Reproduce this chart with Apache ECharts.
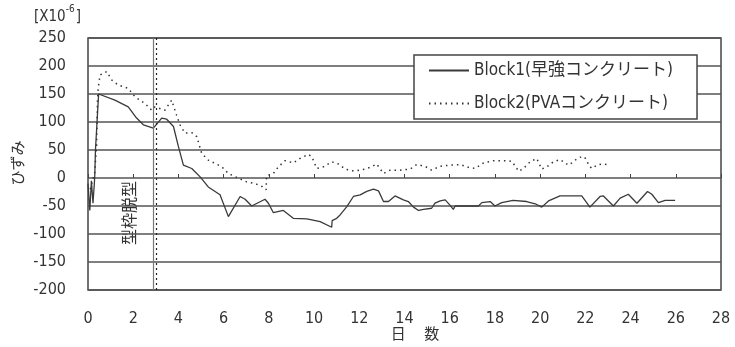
<!DOCTYPE html>
<html>
<head>
<meta charset="utf-8">
<script src="https://cdn.jsdelivr.net/npm/echarts@6/dist/echarts.min.js"></script>
<style>
  html, body { margin: 0; padding: 0; background: #fff; }
  #chart { width: 735px; height: 347px; }
</style>
</head>
<body>
<div id="chart"></div>
<script>
// Strain history of two concrete blocks (x10^-6) against elapsed days
const seriesNames = ['Block1(早強コンクリート)', 'Block2(PVAコンクリート)'];

const block1Days = [0, 0.08, 0.15, 0.22, 0.28, 0.3, 0.33, 0.4, 0.47, 0.55, 1.19, 1.78, 2.15, 2.45, 2.89, 3.26, 3.48, 3.78, 4.0, 4.22,
  4.59, 4.96, 5.32, 5.84, 6.21, 6.73, 6.95, 7.24, 7.83, 7.98, 8.2, 8.64, 9.08, 9.68, 10.27, 10.78, 10.8, 11.0, 11.15, 11.45,
  11.74, 12.04, 12.33, 12.63, 12.85, 13.07, 13.29, 13.58, 13.95, 14.17, 14.4, 14.62, 14.84, 15.2, 15.35, 15.58, 15.8, 16.0, 16.16, 16.24,
  17.27, 17.42, 17.79, 18.0, 18.3, 18.8, 19.4, 19.78, 20.07, 20.37, 20.88, 21.84, 22.2, 22.65, 22.8, 23.24, 23.54, 23.9, 24.28, 24.75,
  24.94, 25.23, 25.53, 25.97];
const block1Strain = [-10, -58, -5, -45, -10, 5, 50, 100, 150, 151, 139, 127, 107, 95, 89, 107, 105, 92, 56, 23,
  17, 2, -16, -30, -69, -33, -38, -50, -38, -45, -62, -58, -72, -73, -78, -88, -76, -72, -66, -51,
  -33, -30, -24, -20, -23, -42, -42, -32, -39, -42, -52, -58, -56, -54, -45, -41, -39, -48, -56, -50,
  -50, -44, -42, -50, -44, -40, -42, -46, -52, -41, -32, -32, -52, -33, -32, -50, -36, -29, -45, -24,
  -29, -44, -40, -40];

const block2Days = [0.1, 0.2, 0.3, 0.38, 0.42, 0.45, 0.53, 0.83, 1.05, 1.34, 1.78, 2.08, 2.52, 2.82, 2.96, 3.4, 3.7, 3.92, 4.07, 4.29, 4.59,
  4.81, 5.03, 5.32, 5.62, 5.92, 6.21, 7.02, 7.39, 7.69, 7.88, 7.9, 8.2, 8.42, 8.72, 9.08, 9.38, 9.75, 9.9, 10.12, 10.41,
  10.78, 11.08, 11.37, 11.67, 11.89, 12.26, 12.55, 12.77, 13.07, 13.36, 13.8, 14.25, 14.54, 14.9, 15.2, 15.58, 16.0, 16.46, 16.83, 17.12,
  17.5, 17.94, 18.4, 18.75, 19.05, 19.26, 19.56, 19.85, 20.07, 20.3, 20.59, 20.88, 21.1, 21.25, 21.4, 21.55, 21.77, 21.95, 22.07, 22.14,
  22.29, 22.51, 22.73, 22.95];
const block2Strain = [-20, -5, 10, 60, 140, 160, 184, 190, 175, 166, 160, 145, 133, 121, 127, 121, 139, 112, 95, 80, 81,
  74, 44, 32, 26, 20, 8, -7, -10, -15, -21, 4, 8, 20, 31, 27, 35, 42, 38, 17, 20,
  29, 25, 16, 13, 13, 16, 20, 25, 8, 14, 14, 16, 24, 21, 14, 21, 23, 24, 19, 17,
  27, 31, 31, 30, 12, 17, 29, 35, 16, 20, 29, 33, 27, 23, 27, 32, 37, 38, 31, 23,
  17, 23, 25, 24];

// x-axis and y-axis tick labels
const dayTicks = [0, 2, 4, 6, 8, 10, 12, 14, 16, 18, 20, 22, 24, 26, 28];
const strainTicks = [-200, -150, -100, -50, 0, 50, 100, 150, 200, 250];

// form removal day markers
const formRemovalDays = [2.88, 3.0];

const pair = (xs, ys) => xs.map((x, i) => [x, ys[i]]);

const numFont = '"Liberation Sans Narrow", "DejaVu Sans Condensed", "Noto Sans CJK JP", sans-serif';
const jpFont = '"Noto Sans CJK JP", sans-serif';
const ink = '#333';

const chart = echarts.init(document.getElementById('chart'), null, { renderer: 'canvas' });

chart.setOption({
  animation: false,
  backgroundColor: '#fff',
  grid: { left: 88, right: 14, top: 38, bottom: 57, show: true, borderColor: '#444', borderWidth: 1.5, backgroundColor: 'transparent' },
  xAxis: {
    type: 'value',
    min: dayTicks[0],
    max: dayTicks[dayTicks.length - 1],
    interval: 2,
    axisLine: { show: false },
    axisTick: { show: true, inside: true, length: 4, lineStyle: { color: '#444', width: 1 } },
    splitLine: { show: false },
    axisLabel: { color: ink, fontFamily: numFont, fontSize: 16, margin: 21 }
  },
  yAxis: {
    type: 'value',
    min: strainTicks[0],
    max: strainTicks[strainTicks.length - 1],
    interval: 50,
    axisLine: { show: false },
    axisTick: { show: false },
    splitLine: { show: true, lineStyle: { color: '#555', width: 1.5 } },
    axisLabel: { color: ink, fontFamily: numFont, fontSize: 16, margin: 22 }
  },
  legend: {
    orient: 'vertical',
    left: 414,
    top: 55,
    padding: [7, 24, 7, 14],
    itemGap: 16,
    itemWidth: 40,
    itemHeight: 8,
    backgroundColor: '#fff',
    borderColor: '#444',
    borderWidth: 1.5,
    borderRadius: 0,
    itemStyle: { opacity: 0 },
    textStyle: { color: ink, fontFamily: numFont + ', ' + jpFont, fontSize: 17 },
    data: seriesNames
  },
  graphic: [
    {
      type: 'text', left: 34, top: 4,
      style: {
        text: '{b|[X10}{s|-6}{b|]}',
        rich: {
          b: { fontFamily: numFont, fontSize: 15, fill: ink, verticalAlign: 'bottom', padding: [6, 0, 0, 0] },
          s: { fontFamily: numFont, fontSize: 10, fill: ink, verticalAlign: 'top', padding: [0, 1, 8, 0] }
        }
      }
    },
    {
      type: 'text', x: 17, y: 163, rotation: Math.PI / 2,
      style: { text: 'ひずみ', fontFamily: jpFont, fontSize: 15, fill: ink, align: 'center', verticalAlign: 'middle' }
    },
    {
      type: 'text', x: 129, y: 213, rotation: Math.PI / 2,
      style: { text: '型枠脱型', fontFamily: jpFont, fontSize: 16, fill: ink, align: 'center', verticalAlign: 'middle' }
    },
    {
      type: 'text', x: 415, y: 333,
      style: { text: '日　 数', fontFamily: jpFont, fontSize: 15, fill: ink, align: 'center', verticalAlign: 'middle' }
    }
  ],
  series: [
    {
      name: seriesNames[0],
      type: 'line',
      data: pair(block1Days, block1Strain),
      showSymbol: false,
      symbol: 'none',
      lineStyle: { color: '#3a3a3a', width: 1.3, type: 'solid' },
      itemStyle: { color: '#3a3a3a' },
      markLine: {
        silent: true,
        symbol: 'none',
        label: { show: false },
        data: [
          { xAxis: formRemovalDays[0], lineStyle: { color: '#777', width: 1.2, type: 'solid' } },
          { xAxis: formRemovalDays[1], lineStyle: { color: '#222', width: 1.2, type: [2, 3] } }
        ]
      },
      z: 3
    },
    {
      name: seriesNames[1],
      type: 'line',
      data: pair(block2Days, block2Strain),
      showSymbol: false,
      symbol: 'none',
      lineStyle: { color: '#333', width: 1.5, type: [1.5, 4] },
      itemStyle: { color: '#333' },
      z: 3
    }
  ]
});
</script>
</body>
</html>
